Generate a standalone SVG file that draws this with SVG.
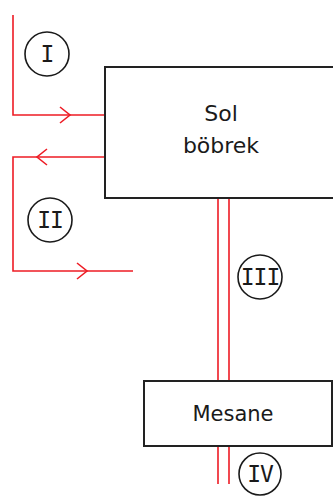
<svg xmlns="http://www.w3.org/2000/svg" width="333" height="499" viewBox="0 0 333 499">
  <defs>
    <style>
      .box { fill: #ffffff; stroke: #222222; stroke-width: 2; }
      .flow { fill: none; stroke: #ee1c25; stroke-width: 1.6; }
      .ring { fill: #ffffff; stroke: #1a1a1a; stroke-width: 1.6; }
      .label { font-family: "DejaVu Sans", sans-serif; font-size: 22px; fill: #1a1a1a; text-anchor: middle; }
      .num { font-family: "DejaVu Sans Mono", monospace; font-size: 23px; fill: #1a1a1a; text-anchor: middle; letter-spacing: -1px; }
    </style>
  </defs>

  <!-- vessels and ducts -->
  <g id="connectors">
    <!-- I : into the kidney -->
    <path class="flow" d="M13,15 V115 H105"/>
    <path class="flow" d="M60,107 L70,115 L60,123"/>
    <!-- II : out of the kidney -->
    <path class="flow" d="M105,157 H13 V271 H133"/>
    <path class="flow" d="M47,149 L37,157 L47,165"/>
    <path class="flow" d="M77,263 L87,271 L77,279"/>
    <!-- III : ureter -->
    <path class="flow" d="M218,198 V381 M229,198 V381"/>
    <!-- IV : urethra -->
    <path class="flow" d="M218,446 V484 M229,446 V484"/>
  </g>

  <g id="kidney">
    <rect class="box" x="105" y="67" width="240" height="131"/>
    <text class="label" x="221" y="121">Sol</text>
    <text class="label" x="221" y="153">böbrek</text>
  </g>

  <g id="bladder">
    <rect class="box" x="144" y="381" width="188" height="65"/>
    <text class="label" x="233" y="421" style="font-size:21px">Mesane</text>
  </g>

  <g id="mark-I">
    <circle class="ring" cx="47" cy="54" r="22"/>
    <text class="num" x="47" y="62">I</text>
  </g>
  <g id="mark-II">
    <circle class="ring" cx="50" cy="220" r="22"/>
    <text class="num" x="50" y="228">II</text>
  </g>
  <g id="mark-III">
    <circle class="ring" cx="260" cy="277" r="22"/>
    <text class="num" x="260" y="285">III</text>
  </g>
  <g id="mark-IV">
    <circle class="ring" cx="260" cy="474" r="21"/>
    <text class="num" x="260" y="482">IV</text>
  </g>
</svg>
